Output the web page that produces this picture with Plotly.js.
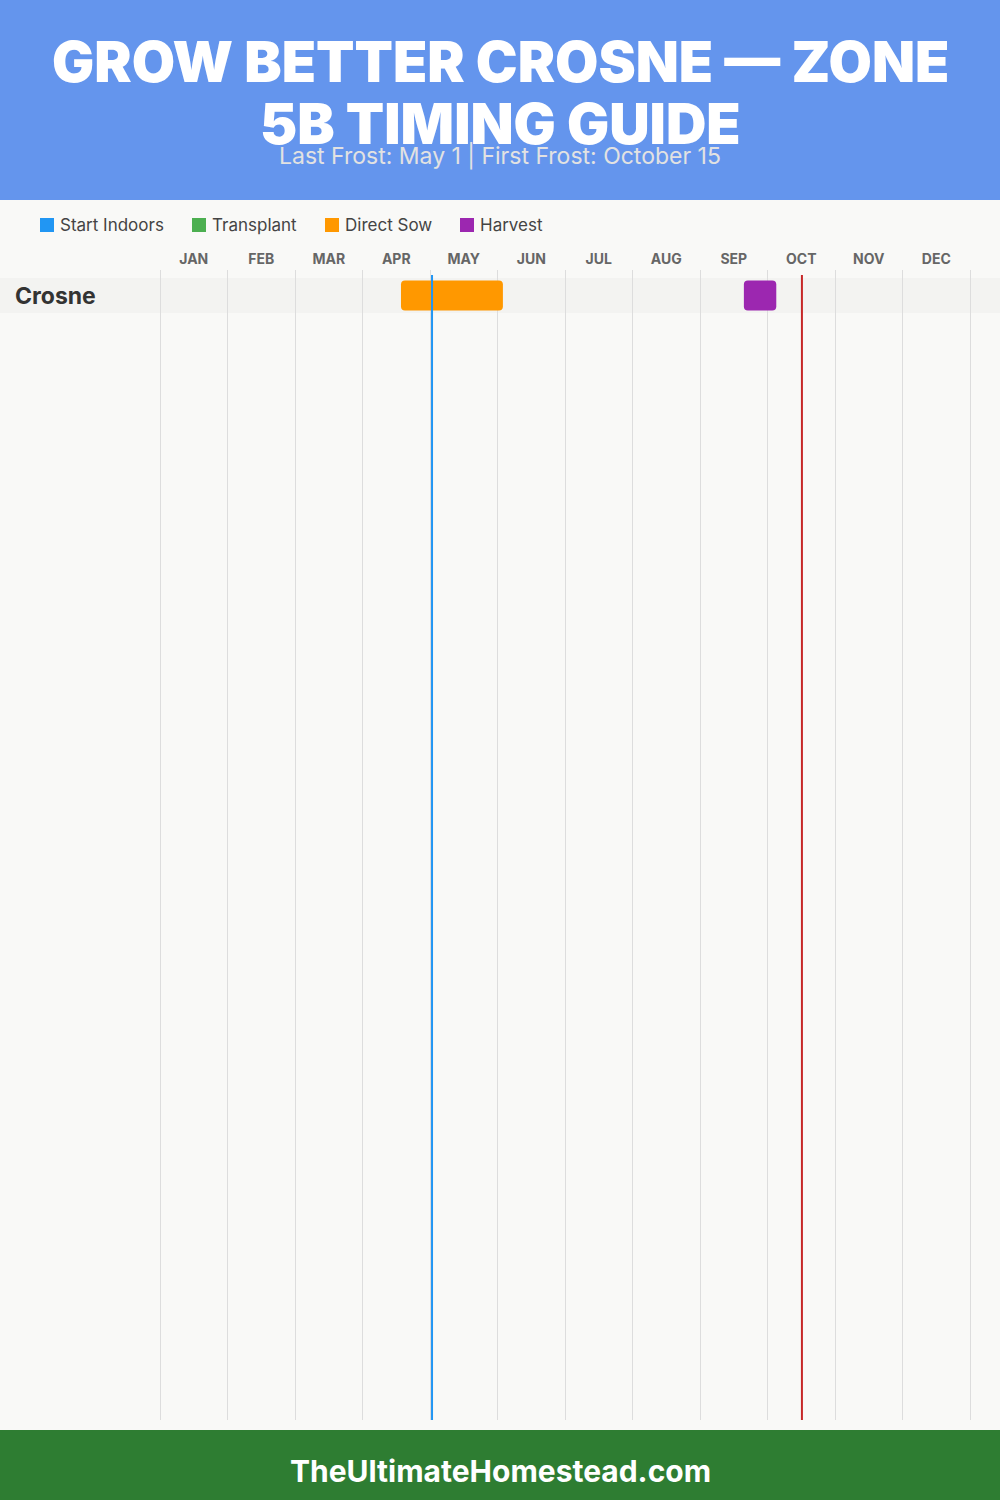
<!DOCTYPE html>
<html>
<head>
<meta charset="utf-8">
<script src="https://cdn.plot.ly/plotly-3.0.1.min.js"></script>
<style>html,body{margin:0;padding:0;background:#f9f9f7;}#chart{width:1000px;height:1500px;}</style>
</head>
<body>
<div id="chart"></div>
<script>
// ---- data ----
const months = ["JAN","FEB","MAR","APR","MAY","JUN","JUL","AUG","SEP","OCT","NOV","DEC"];
const crops = ["Crosne"];
const stages = ["Start Indoors","Transplant","Direct Sow","Harvest"];
const stageColors = ["#2196F3","#4CAF50","#FF9800","#9C27B0"];
// start / end in months from Jan 1 (one entry per crop, null = none)
const startIndoorsStart = [null], startIndoorsEnd = [null];
const transplantStart = [null], transplantEnd = [null];
const directSowStart = [3.57], directSowEnd = [5.08];
const harvestStart = [8.65], harvestEnd = [9.13];
const lastFrost = 4.03;   // May 1
const firstFrost = 9.51;  // October 15
const titleLines = ["GROW BETTER CROSNE — ZONE", "5B TIMING GUIDE"];
const subtitleText = "Last Frost: May 1 | First Frost: October 15";
const footerText = "TheUltimateHomestead.com";

const FONT = "Inter, 'Open Sans', sans-serif";
const starts = [startIndoorsStart, transplantStart, directSowStart, harvestStart];
const ends = [startIndoorsEnd, transplantEnd, directSowEnd, harvestEnd];

const traces = stages.map((name, i) => {
  const ys = [], bases = [], lens = [];
  crops.forEach((c, k) => {
    const s = starts[i][k], e = ends[i][k];
    ys.push(k);
    bases.push(s);
    lens.push(s === null ? null : e - s);
  });
  return {
    type: "bar", orientation: "h", name: name,
    y: ys, x: lens, base: bases, width: 0.857,
    marker: {color: stageColors[i], cornerradius: 4, line: {width: 0}},
    hoverinfo: "skip", showlegend: false
  };
});

const H = 1500, W = 1000;
const py = p => 1 - p / H;
const px = p => p / W;

const shapes = [
  {type:"rect", xref:"paper", yref:"paper", x0:0, x1:1, y0:py(200), y1:1, fillcolor:"#6495ED", line:{width:0}, layer:"below"},
  {type:"rect", xref:"paper", yref:"paper", x0:0, x1:1, y0:0, y1:py(1430), fillcolor:"#2E7D32", line:{width:0}, layer:"below"},
];
crops.forEach((c, k) => {
  shapes.push({type:"rect", xref:"paper", yref:"y", x0:0, x1:1, y0:k-0.5, y1:k+0.5, fillcolor:"#f3f3f1", line:{width:0}, layer:"between"});
});
shapes.push({type:"line", xref:"x", yref:"paper", x0:lastFrost, x1:lastFrost, y0:py(1420), y1:py(275), line:{color:"#2196F3", width:2}, layer:"above"});
shapes.push({type:"line", xref:"x", yref:"paper", x0:firstFrost, x1:firstFrost, y0:py(1420), y1:py(275), line:{color:"#C62828", width:2}, layer:"above"});

const annotations = [
  {text: titleLines[0], xref:"paper", yref:"paper", x:0.5, y:py(62), xanchor:"center", yanchor:"middle", showarrow:false,
   font:{family:FONT, size:56, color:"#ffffff", weight:900}},
  {text: titleLines[1], xref:"paper", yref:"paper", x:0.5, y:py(124), xanchor:"center", yanchor:"middle", showarrow:false,
   font:{family:FONT, size:56, color:"#ffffff", weight:900}},
  {text: subtitleText, xref:"paper", yref:"paper", x:0.5, y:py(156), xanchor:"center", yanchor:"middle", showarrow:false,
   font:{family:FONT, size:23, color:"#e2e2e2", weight:400}},
  {text: footerText, xref:"paper", yref:"paper", x:0.5, y:py(1471), xanchor:"center", yanchor:"middle", showarrow:false,
   font:{family:FONT, size:30, color:"#ffffff", weight:700}},
];
crops.forEach((c, k) => {
  annotations.push({text: c, xref:"paper", yref:"y", x:px(13), y:k, xanchor:"left", yanchor:"middle", showarrow:false,
    font:{family:FONT, size:23, color:"#333333", weight:700}});
});

// legend drawn as swatches + labels
const legendX = [40, 192, 325, 460];
stages.forEach((s, i) => {
  shapes.push({type:"rect", xref:"paper", yref:"paper", x0:px(legendX[i]), x1:px(legendX[i]+14), y0:py(232), y1:py(218),
    fillcolor: stageColors[i], line:{width:0}});
  annotations.push({text: s, xref:"paper", yref:"paper", x:px(legendX[i]+18), y:py(225), xanchor:"left", yanchor:"middle", showarrow:false,
    font:{family:FONT, size:17, color:"#444444"}});
});

const layout = {
  width: 1000, height: 1500,
  margin: {l:0, r:0, t:0, b:0},
  paper_bgcolor: "#f9f9f7", plot_bgcolor: "rgba(0,0,0,0)",
  barmode: "overlay",
  xaxis: {
    domain:[px(158.65), px(971.35)], range:[-0.02,12.02], side:"top", fixedrange:true,
    tickmode:"array", tickvals: months.map((m,i)=>i+0.5), ticktext: months,
    ticks:"", showgrid:false, zeroline:false, showline:false, ticklabelstandoff: 2,
    tickfont:{family:FONT, size:14, color:"#666666", weight:700},
    minor:{tickmode:"array", tickvals: months.map((m,i)=>i).concat([12]), showgrid:true, gridcolor:"#dddddd", gridwidth:1, ticks:""}
  },
  yaxis: {
    domain:[py(1420), py(270)], range:[32.13, -0.729], autorange:false,
    showticklabels:false, showgrid:false, zeroline:false, showline:false, ticks:"", fixedrange:true
  },
  shapes: shapes,
  annotations: annotations,
  showlegend: false
};

Plotly.newPlot("chart", traces, layout, {displayModeBar:false, staticPlot:true});
</script>
</body>
</html>
